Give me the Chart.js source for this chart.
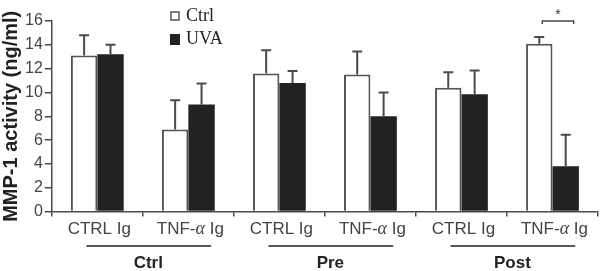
<!DOCTYPE html>
<html>
<head>
<meta charset="utf-8">
<script src="https://cdn.jsdelivr.net/npm/chart.js@4"></script>
<style>
  html, body { margin: 0; padding: 0; background: #fff; }
  #wrap { width: 601px; height: 271px; }
</style>
</head>
<body>
<div id="wrap"><canvas id="myChart" width="601" height="271"></canvas></div>
<script>
// data
let categories = ['CTRL Ig', 'TNF-\u03b1 Ig', 'CTRL Ig', 'TNF-\u03b1 Ig', 'CTRL Ig', 'TNF-\u03b1 Ig'];
let groups = ['Ctrl', 'Pre', 'Post'];
let ctrlMeans = [13.1, 6.9, 11.6, 11.5, 10.4, 14.1];
let ctrlErr = [1.7, 2.45, 1.95, 1.95, 1.3, 0.55];
let uvaMeans = [13.2, 9.0, 10.8, 8.0, 9.85, 3.8];
let uvaErr = [0.8, 1.75, 1.0, 2.0, 2.0, 2.65];
let yTicks = [0, 2, 4, 6, 8, 10, 12, 14, 16];

let axisColor = '#4a4a4a';
let textColor = '#444';
let sans = '"Liberation Sans", Arial, sans-serif';
let serif = '"Liberation Serif", "Times New Roman", serif';

// x labels with italic alpha, error bars (upper only), legend, group labels, bracket
const extras = {
    id: 'extras',
    afterDatasetsDraw(chart) {
        let ctx = chart.ctx;
        let y = chart.scales.y;
        let x = chart.scales.x;
        let errs = [ctrlErr, uvaErr];
        let means = [ctrlMeans, uvaMeans];
        ctx.save();
        ctx.strokeStyle = axisColor;
        ctx.lineWidth = 2;
        chart.data.datasets.forEach((ds, di) => {
            chart.getDatasetMeta(di).data.forEach((bar, i) => {
                let top = y.getPixelForValue(means[di][i] + errs[di][i]);
                ctx.beginPath();
                ctx.moveTo(bar.x, bar.y);
                ctx.lineTo(bar.x, top);
                ctx.moveTo(bar.x - 5, top);
                ctx.lineTo(bar.x + 5, top);
                ctx.stroke();
            });
        });

        // category labels
        let labelY = x.top + 18;
        ctx.textBaseline = 'middle';
        ctx.textAlign = 'left';
        ctx.fillStyle = textColor;
        categories.forEach((lab, i) => {
            let cx = x.getPixelForValue(i) + 2;
            let parts;
            if (lab.indexOf('\u03b1') >= 0) {
                let p = lab.split('\u03b1');
                parts = [[p[0], '17px ' + sans], ['\u03b1', 'italic 18px ' + serif], [' ' + p[1].trim(), '17px ' + sans]];
            } else {
                parts = [[lab, '17px ' + sans]];
            }
            let total = 0;
            parts.forEach(pt => { ctx.font = pt[1]; total += ctx.measureText(pt[0]).width; });
            let px = cx - total / 2;
            parts.forEach(pt => {
                ctx.font = pt[1];
                ctx.fillText(pt[0], px, labelY);
                px += ctx.measureText(pt[0]).width;
            });
        });

        // legend
        let lx = 170;
        let names = ['Ctrl', 'UVA'];
        let ly = [16, 39];
        ctx.font = '18px ' + serif;
        names.forEach((n, k) => {
            if (k == 0) {
                ctx.strokeStyle = '#555';
                ctx.lineWidth = 1.5;
                ctx.strokeRect(lx + 1, ly[k] - 4, 8, 8);
            } else {
                ctx.fillStyle = '#222';
                ctx.fillRect(lx, ly[k] - 5, 10, 11);
            }
            ctx.fillStyle = '#222';
            ctx.fillText(n, lx + 16, ly[k]);
        });

        // group labels with underline
        let w = x.getPixelForValue(1) - x.getPixelForValue(0);
        ctx.lineWidth = 1.5;
        ctx.strokeStyle = '#222';
        ctx.fillStyle = '#222';
        ctx.font = 'bold 17px ' + sans;
        ctx.textAlign = 'center';
        groups.forEach((g, k) => {
            let c0 = x.getPixelForValue(2 * k);
            let c1 = x.getPixelForValue(2 * k + 1);
            let lineY = x.top + 34.5;
            ctx.beginPath();
            ctx.moveTo(c0 - 0.12 * w, lineY);
            ctx.lineTo(c1 + 0.25 * w, lineY);
            ctx.stroke();
            ctx.fillText(g, (c0 + c1) / 2 + 0.06 * w, x.top + 52);
        });

        // significance bracket on last pair
        let b0 = chart.getDatasetMeta(0).data[5].x + 3;
        let b1 = chart.getDatasetMeta(1).data[5].x + 8;
        let by = y.getPixelForValue(16);
        ctx.strokeStyle = axisColor;
        ctx.lineWidth = 1.5;
        ctx.beginPath();
        ctx.moveTo(b0, by + 3);
        ctx.lineTo(b0, by);
        ctx.lineTo(b1, by);
        ctx.lineTo(b1, by + 3);
        ctx.stroke();
        ctx.fillStyle = '#333';
        ctx.font = '14px ' + sans;
        ctx.fillText('*', (b0 + b1) / 2, by - 6);
        ctx.restore();
    }
};

let ctx = document.getElementById('myChart').getContext('2d');
const myChart = new Chart(ctx, {
    type: 'bar',
    data: {
        labels: categories,
        datasets: [
            {
                label: 'Ctrl',
                data: ctrlMeans,
                backgroundColor: '#fff',
                borderColor: '#555',
                borderWidth: 2,
                borderSkipped: 'bottom',
                barPercentage: 1,
                categoryPercentage: 0.58
            },
            {
                label: 'UVA',
                data: uvaMeans,
                backgroundColor: '#222',
                borderColor: '#222',
                borderWidth: 0,
                barPercentage: 1,
                categoryPercentage: 0.58
            }
        ]
    },
    options: {
        responsive: false,
        animation: false,
        layout: { padding: { top: 21, right: 3, bottom: 40, left: -1 } },
        plugins: { legend: { display: false }, tooltip: { enabled: false } },
        scales: {
            x: {
                grid: { drawOnChartArea: false, drawTicks: true, tickLength: 5, color: axisColor, lineWidth: 1.5, offset: true },
                border: { color: axisColor, width: 1.5 },
                ticks: { color: 'rgba(0,0,0,0)', font: { family: sans, size: 12 }, padding: 0, maxRotation: 0, autoSkip: false }
            },
            y: {
                min: 0,
                max: 16,
                afterBuildTicks: (s) => { s.ticks = yTicks.map(v => ({ value: v })); },
                grid: { drawOnChartArea: false, drawTicks: true, tickLength: 7, color: axisColor, lineWidth: 1.5 },
                border: { color: axisColor, width: 1.5 },
                ticks: { color: textColor, font: { family: sans, size: 16 }, padding: 2 },
                title: { display: true, text: 'MMP-1 activity (ng/ml)', color: '#222', font: { family: sans, size: 20, weight: 'bold' }, padding: 0 }
            }
        }
    },
    plugins: [extras]
});
</script>
</body>
</html>
